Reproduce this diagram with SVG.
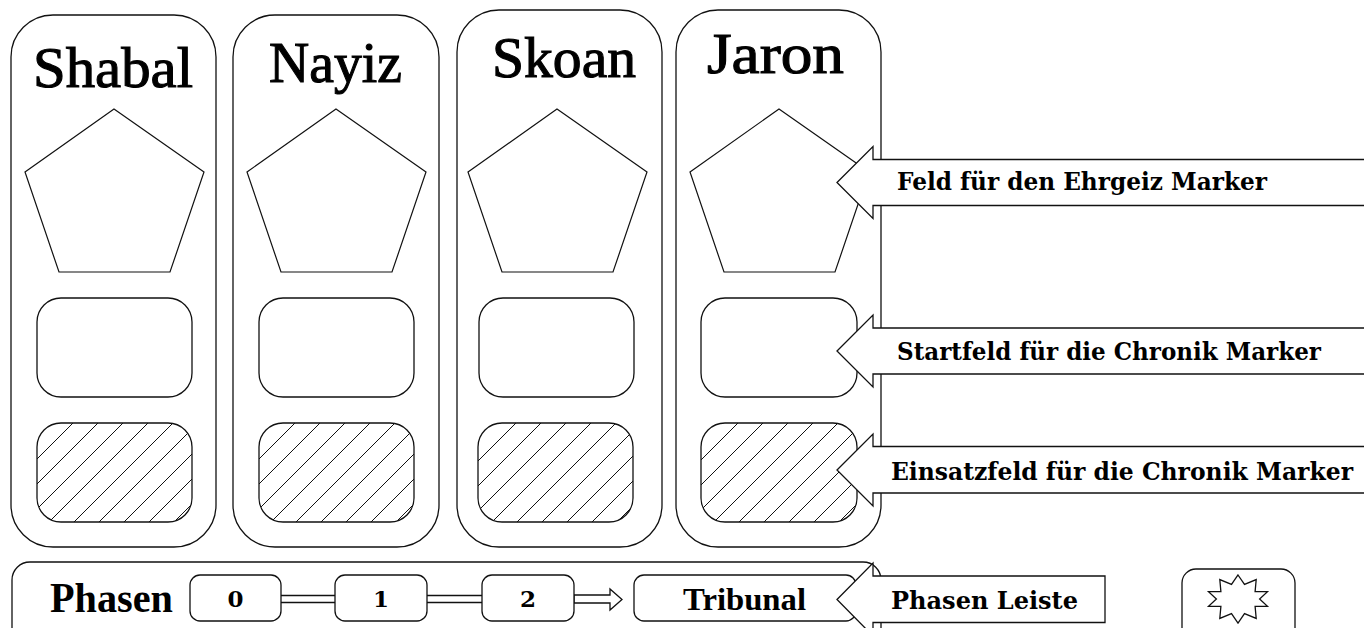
<svg xmlns="http://www.w3.org/2000/svg" width="1364" height="628" viewBox="0 0 1364 628">
<defs>
<style>
.ln{fill:#fff;stroke:#111;stroke-width:1.3}
.pent{fill:#fff;stroke:#111;stroke-width:1.2}
.hat{fill:url(#hatch);stroke:#111;stroke-width:1.3}
.title{font-family:"Liberation Serif","Times New Roman",serif;font-size:58px;fill:#000;stroke:#000;stroke-width:1.1;text-anchor:middle}
.lab{font-family:"DejaVu Serif","Liberation Serif",serif;font-weight:bold;font-size:23.5px;fill:#000}
.bar{font-family:"Liberation Serif","Times New Roman",serif;font-weight:bold;fill:#000}
.dig{font-family:"DejaVu Serif","Liberation Serif",serif;font-weight:bold;font-size:23px;fill:#000;text-anchor:middle}
.con{fill:none;stroke:#111;stroke-width:1.3}
</style>
<pattern id="hatch" patternUnits="userSpaceOnUse" width="25" height="25" patternTransform="translate(21,0)">
<rect width="25" height="25" fill="#fff"/>
<path d="M-2,27 L27,-2 M-2,2 L2,-2 M23,27 L27,23" stroke="#111" stroke-width="1"/>
</pattern>
</defs>
<rect width="1364" height="628" fill="#fff"/>

<g id="col-shabal" transform="translate(0,0)">
<rect class="ln" x="11" y="15" width="205" height="532" rx="42"/>
<text class="title" x="113" y="87" textLength="160" lengthAdjust="spacingAndGlyphs">Shabal</text>
<polygon class="pent" points="114,109 204,172 170,272 59,272 25,172"/>
<rect class="ln" x="37" y="298" width="155" height="99" rx="24"/>
<rect class="hat" x="37" y="423" width="155" height="99" rx="24"/>
</g>

<g id="col-nayiz" transform="translate(222,0)">
<rect class="ln" x="11" y="15" width="206" height="532" rx="42"/>
<text class="title" x="113.5" y="82" textLength="133" lengthAdjust="spacingAndGlyphs">Nayiz</text>
<polygon class="pent" points="114,109 204,172 170,272 59,272 25,172"/>
<rect class="ln" x="37" y="298" width="155" height="99" rx="24"/>
<rect class="hat" x="37" y="423" width="155" height="99" rx="24"/>
</g>

<g id="col-skoan" transform="translate(443,0)">
<rect class="ln" x="14" y="10" width="205" height="537" rx="42"/>
<text class="title" x="121" y="77" textLength="144" lengthAdjust="spacingAndGlyphs">Skoan</text>
<polygon class="pent" points="114,109 204,172 170,272 59,272 25,172"/>
<rect class="ln" x="36" y="298" width="155" height="99" rx="24"/>
<rect class="hat" x="35" y="423" width="155" height="99" rx="24"/>
</g>

<g id="col-jaron" transform="translate(665,0)">
<rect class="ln" x="11" y="10" width="205" height="537" rx="42"/>
<text class="title" x="110.5" y="73" textLength="137" lengthAdjust="spacingAndGlyphs">Jaron</text>
<polygon class="pent" points="114,109 204,172 170,272 59,272 25,172"/>
<rect class="ln" x="36" y="298" width="156" height="99" rx="24"/>
<rect class="hat" x="36" y="423" width="156" height="99" rx="24"/>
</g>

<g id="phase-bar">
<rect class="ln" x="12" y="562" width="869" height="100" rx="18"/>
<text class="bar" x="50" y="612" font-size="43" textLength="123" lengthAdjust="spacingAndGlyphs">Phasen</text>
</g>

<g id="connectors">
<path class="con" d="M281,595.5 H335 M281,602.5 H335"/>
<path class="con" d="M427,595.5 H482 M427,602.5 H482"/>
<polygon class="ln" points="574,595 610,595 610,589 622,599.5 610,610 610,603 574,603"/>
</g>

<g id="phase-0">
<rect class="ln" x="190" y="575" width="91" height="46" rx="10"/>
<text class="dig" x="235.5" y="607">0</text>
</g>
<g id="phase-1">
<rect class="ln" x="335" y="575" width="92" height="46" rx="10"/>
<text class="dig" x="381" y="607">1</text>
</g>
<g id="phase-2">
<rect class="ln" x="482" y="575" width="92" height="46" rx="10"/>
<text class="dig" x="528" y="607">2</text>
</g>
<g id="phase-tribunal">
<rect class="ln" x="634" y="575" width="222" height="46" rx="10"/>
<text class="bar" x="683" y="610" font-size="32" textLength="123" lengthAdjust="spacingAndGlyphs">Tribunal</text>
</g>

<g id="callout-ehrgeiz">
<polygon class="ln" points="837,182.5 873,146.5 873,159.5 1370,159.5 1370,205.5 873,205.5 873,218.5"/>
<text class="lab" x="897" y="190" textLength="370" lengthAdjust="spacingAndGlyphs">Feld für den Ehrgeiz Marker</text>
</g>
<g id="callout-startfeld">
<polygon class="ln" points="837,351 873,315 873,328 1370,328 1370,374 873,374 873,387"/>
<text class="lab" x="897" y="360" textLength="424" lengthAdjust="spacingAndGlyphs">Startfeld für die Chronik Marker</text>
</g>
<g id="callout-einsatzfeld">
<polygon class="ln" points="837,470 873,434 873,446.5 1370,446.5 1370,493 873,493 873,506"/>
<text class="lab" x="891" y="480" textLength="462" lengthAdjust="spacingAndGlyphs">Einsatzfeld für die Chronik Marker</text>
</g>
<g id="callout-phasen">
<polygon class="ln" points="837,599.5 873,563 873,576 1105,576 1105,622.5 873,622.5 873,636"/>
<text class="lab" x="891" y="608.5" textLength="187" lengthAdjust="spacingAndGlyphs">Phasen Leiste</text>
</g>

<g id="star-box">
<rect class="ln" x="1182" y="569" width="113" height="80" rx="14"/>
<polygon class="ln" points="1238,575 1244.5,584.4 1256.2,579.6 1255.1,591.6 1267.5,591.6 1259.6,599 1267.5,606.4 1255.1,606.4 1256.2,618.4 1244.5,613.6 1238,623 1231.5,613.6 1219.8,618.4 1220.9,606.4 1208.5,606.4 1216.4,599 1208.5,591.6 1220.9,591.6 1219.8,579.6 1231.5,584.4"/>
</g>
</svg>
